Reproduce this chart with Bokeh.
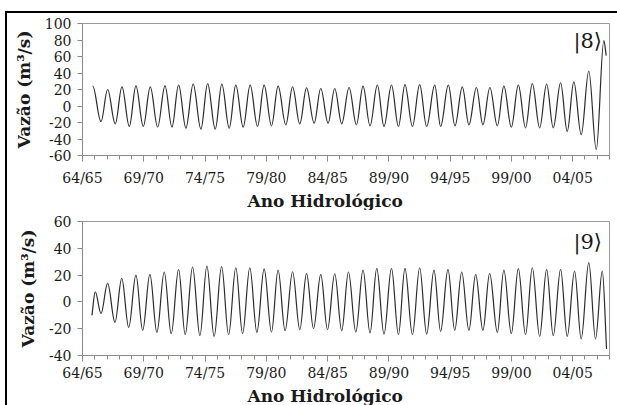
from bokeh.plotting import figure
from bokeh.layouts import column
from bokeh.models import ColumnDataSource, FixedTicker, Label, Range1d, Title
from bokeh.embed import file_html
from bokeh.resources import INLINE

# ---------------- data ----------------
# x = years since 64/65
year_tick_pos = [0, 5, 10, 15, 20, 25, 30, 35, 40]
year_labels = ["64/65", "69/70", "74/75", "79/80", "84/85", "89/90", "94/95", "99/00", "04/05"]
year_minor = list(range(0, 44))

# panel |8>
top_peak_t = [0.83, 2.05, 3.22, 4.36, 5.53, 6.73, 7.84, 9.03, 10.21, 11.37, 12.51, 13.68, 14.82,
              15.96, 17.14, 18.28, 19.44, 20.58, 21.75, 22.89, 24.06, 25.21, 26.31, 27.51, 28.74,
              29.85, 30.99, 32.14, 33.24, 34.38, 35.56, 36.70, 37.87, 39.01, 40.09, 41.31, 42.54]
top_peak_v = [24, 20, 23.2, 24.4, 23.2, 24.4, 25.2, 26.4, 27.2, 26.4, 25.2, 25.2, 25.2,
              24, 23.2, 22, 21.2, 21.2, 22.4, 24, 25.2, 25.2, 26, 26, 25.2,
              25.2, 23.2, 22.4, 22.4, 24, 25.2, 27.2, 26.4, 28, 29.2, 42.4, 79.2]
top_trough_t = [1.51, 2.67, 3.82, 4.96, 6.13, 7.30, 8.44, 9.66, 10.83, 11.97, 13.11, 14.28,
                15.42, 16.59, 17.73, 18.90, 20.04, 21.15, 22.35, 23.46, 24.60, 25.78, 26.92, 28.08,
                29.22, 30.39, 31.53, 32.67, 33.85, 34.99, 36.15, 37.30, 38.41, 39.55, 40.69, 41.92]
top_trough_v = [-18.8, -21.6, -24.8, -24.8, -25.6, -25.6, -26.8, -28, -28, -26.8, -25.6, -24.8,
                -24, -22.8, -21.6, -20.8, -20.8, -21.6, -22.8, -24, -24.8, -24.8, -24.8, -24.8,
                -24.8, -24, -22.8, -22.8, -24, -25.6, -26.4, -26.4, -26.4, -30.8, -34.8, -52.8]
top_end_t, top_end_v = 42.73, 61.0

# panel |9>
bot_start_t, bot_start_v = 0.77, -10.0
bot_peak_t = [1.04, 2.05, 3.20, 4.36, 5.50, 6.67, 7.84, 8.98, 10.15, 11.35, 12.51, 13.65, 14.82,
              15.96, 17.14, 18.28, 19.44, 20.58, 21.70, 22.89, 24.01, 25.21, 26.31, 27.51, 28.68,
              29.82, 30.94, 32.08, 33.22, 34.38, 35.56, 36.70, 37.87, 39.01, 40.15, 41.31, 42.41]
bot_peak_v = [7.5, 13.8, 17.6, 20, 20.5, 22.3, 24.3, 26, 26.8, 26.3, 25.5, 25.5, 24.6,
              23.8, 22.5, 21.3, 20.5, 21, 22.3, 23.8, 25, 25, 25, 25.5, 23.7,
              24.3, 22.3, 20.5, 21.3, 23.8, 24.8, 25.5, 24.3, 24.3, 23, 29.3, 23]
bot_trough_t = [1.51, 2.65, 3.77, 4.91, 6.07, 7.24, 8.38, 9.58, 10.74, 11.92, 13.06, 14.23,
                15.42, 16.53, 17.73, 18.85, 19.99, 21.15, 22.30, 23.46, 24.60, 25.78, 26.92, 28.08,
                29.22, 30.37, 31.53, 32.67, 33.85, 34.99, 36.15, 37.30, 38.41, 39.55, 40.69, 41.86]
bot_trough_v = [-8.7, -15.2, -19, -21.2, -22.7, -23.7, -24.5, -25.2, -25.7, -24.5, -23.7, -22.7,
                -22.5, -21.5, -20.7, -20, -20.7, -21.5, -22.5, -23.2, -24, -24.5, -24.5, -24,
                -22, -21.2, -21.2, -21.2, -22.7, -23.7, -24.5, -25.7, -25.2, -25.7, -27.7, -27.7]
bot_end_t, bot_end_v = 42.76, -35.2

top_yticks = [-60, -40, -20, 0, 20, 40, 60, 80, 100]
bot_yticks = [-40, -20, 0, 20, 40, 60]

# ---------------- helpers ----------------
K = 0.3634  # bezier handle fraction giving a cosine-like half wave


def interleave(peaks_t, peaks_v, troughs_t, troughs_v):
    pts = []
    for i in range(len(peaks_t)):
        pts.append((peaks_t[i], peaks_v[i], True))
        if i < len(troughs_t):
            pts.append((troughs_t[i], troughs_v[i], True))
    return pts


def bezier_source(pts):
    d = dict(x0=[], y0=[], x1=[], y1=[], cx0=[], cy0=[], cx1=[], cy1=[])
    for (xa, ya, ea), (xb, yb, eb) in zip(pts[:-1], pts[1:]):
        dx, dy = xb - xa, yb - ya
        d["x0"].append(xa); d["y0"].append(ya)
        d["x1"].append(xb); d["y1"].append(yb)
        d["cx0"].append(xa + K * dx); d["cy0"].append(ya if ea else ya + K * dy)
        d["cx1"].append(xb - K * dx); d["cy1"].append(yb if eb else yb - K * dy)
    return ColumnDataSource(d)


AXIS_GRAY = "#8a8a8a"
TEXT = "#1a1a1a"
SERIF = "DejaVu Serif"


def make_fig(height, yr, yticks, mb_top, mb_bottom, label_standoff, title_standoff):
    p = figure(width=610, height=height, x_range=Range1d(0, 43.0), y_range=Range1d(*yr),
               output_backend="svg", toolbar_location=None,
               min_border_left=75, min_border_right=8,
               min_border_top=mb_top, min_border_bottom=mb_bottom)
    p.grid.visible = False
    p.outline_line_color = "#999999"
    p.outline_line_width = 1
    p.background_fill_color = "white"
    p.border_fill_color = "white"

    xa = p.xaxis[0]
    xa.ticker = FixedTicker(ticks=year_tick_pos, minor_ticks=year_minor)
    xa.major_label_overrides = {t: lab for t, lab in zip(year_tick_pos, year_labels)}
    ya = p.yaxis[0]
    ya.ticker = FixedTicker(ticks=yticks, minor_ticks=[])
    ya.major_label_overrides = {t: str(t) for t in yticks}
    ya.axis_label = "Vazão (m³/s)"

    for ax in (xa, ya):
        ax.axis_line_color = AXIS_GRAY
        ax.major_tick_line_color = AXIS_GRAY
        ax.minor_tick_line_color = AXIS_GRAY
        ax.major_tick_in = 0
        ax.minor_tick_in = 0
        ax.major_label_text_font = SERIF
        ax.major_label_text_font_size = "14px"
        ax.major_label_text_color = TEXT
        ax.axis_label_text_font = SERIF
        ax.axis_label_text_font_style = "bold"
        ax.axis_label_text_font_size = "17px"
        ax.axis_label_text_color = TEXT
    xa.major_tick_out = 6
    xa.minor_tick_out = 4
    xa.major_label_standoff = label_standoff
    ya.major_tick_out = 5
    ya.major_label_standoff = 6
    ya.axis_label_standoff = 8

    # x-axis title, placed a little left of the frame centre as in the original
    p.add_layout(Title(text="Ano Hidrológico", align="left", offset=165,
                       standoff=title_standoff, text_font=SERIF, text_font_style="bold",
                       text_font_size="17px", text_color=TEXT), "below")
    return p


# ---------------- top panel ----------------
p1 = make_fig(197, (-60, 100), top_yticks, 10, 50, 8, 0)
top_pts = interleave(top_peak_t, top_peak_v, top_trough_t, top_trough_v)
top_pts.append((top_end_t, top_end_v, False))
p1.bezier(x0="x0", y0="y0", x1="x1", y1="y1", cx0="cx0", cy0="cy0", cx1="cx1", cy1="cy1",
          source=bezier_source(top_pts), line_color="#2b2b2b", line_width=1.2)
p1.add_layout(Label(x=42.39, y=79, text="|8⟩", text_align="right", text_baseline="alphabetic",
                    text_font=SERIF, text_font_size="21px", text_color=TEXT))

# ---------------- bottom panel ----------------
p2 = make_fig(195, (-40, 60), bot_yticks, 11, 48, 3, 0)
bot_pts = [(bot_start_t, bot_start_v, False)]
bot_pts += interleave(bot_peak_t, bot_peak_v, bot_trough_t, bot_trough_v)
bot_pts.append((bot_end_t, bot_end_v, False))
p2.bezier(x0="x0", y0="y0", x1="x1", y1="y1", cx0="cx0", cy0="cy0", cx1="cx1", cy1="cy1",
          source=bezier_source(bot_pts), line_color="#2b2b2b", line_width=1.2)
p2.add_layout(Label(x=42.39, y=45, text="|9⟩", text_align="right", text_baseline="alphabetic",
                    text_font=SERIF, text_font_size="21px", text_color=TEXT))

layout = column(p1, p2, spacing=0,
                styles={"margin-left": "5px", "margin-top": "11px",
                        "border-left": "2px solid black", "border-top": "2px solid black"})
open("out.html", "w").write(file_html(layout, INLINE))
